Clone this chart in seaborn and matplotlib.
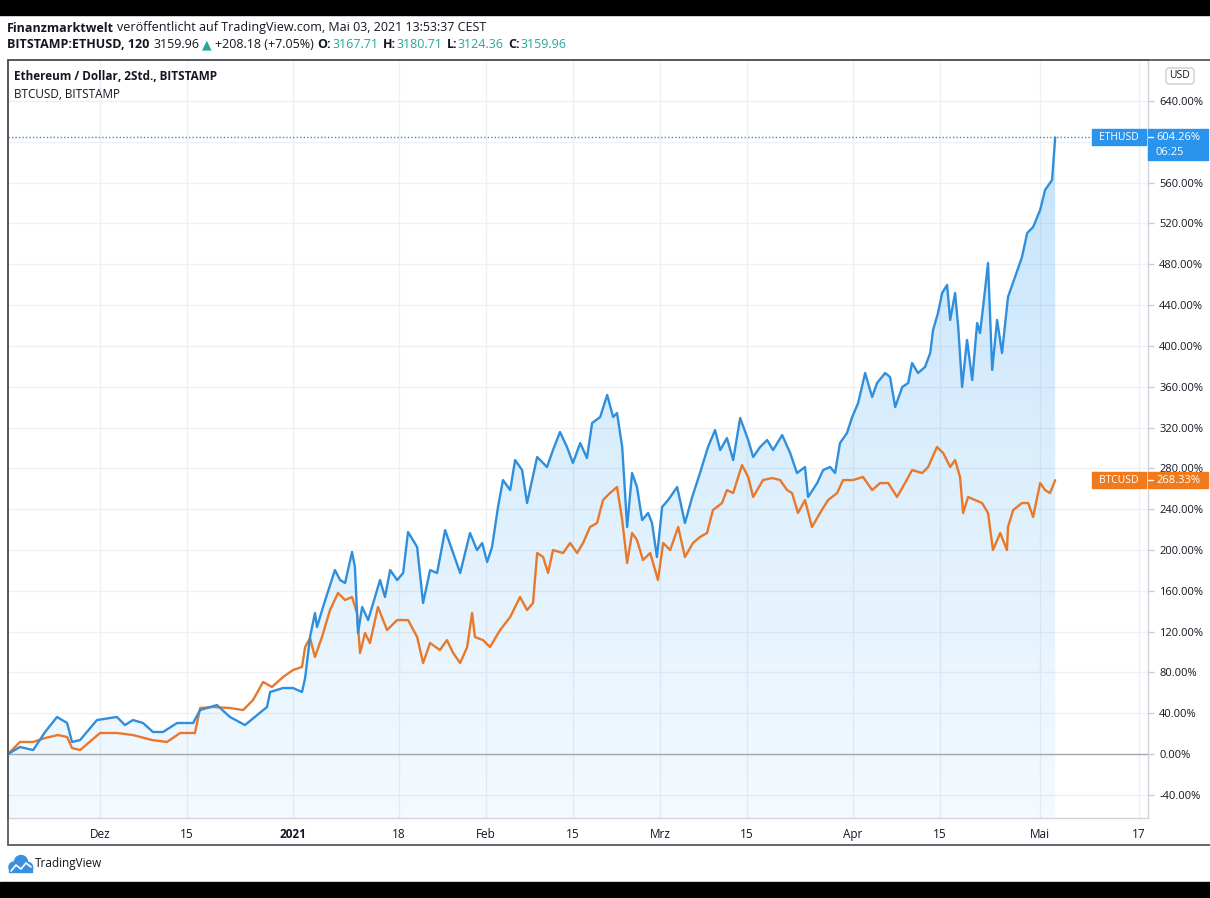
import matplotlib
matplotlib.use("Agg")
import matplotlib.pyplot as plt
import matplotlib.dates as mdates
from matplotlib.transforms import Affine2D
from matplotlib.patches import Rectangle, FancyBboxPatch, Polygon, Circle
from matplotlib.lines import Line2D
import numpy as np
import pandas as pd
import seaborn as sns

# =====================================================
# DATA (percent change since first bar)
# =====================================================

eth_dates = [
    "2020-11-16 05:00", "2020-11-18 03:00", "2020-11-20 06:00", "2020-11-22 04:00", "2020-11-24 02:00", "2020-11-25 17:00", "2020-11-26 12:00", "2020-11-27 19:00", "2020-11-30 12:00", "2020-12-03 17:00",
    "2020-12-05 00:00", "2020-12-06 07:00", "2020-12-07 22:00", "2020-12-09 12:00", "2020-12-11 03:00", "2020-12-13 09:00", "2020-12-15 23:00", "2020-12-17 02:00", "2020-12-19 19:00", "2020-12-21 21:00",
    "2020-12-24 07:00", "2020-12-26 06:00", "2020-12-27 20:00", "2020-12-28 08:00", "2020-12-30 10:00", "2021-01-01 00:00", "2021-01-02 11:00", "2021-01-02 23:00", "2021-01-03 18:00", "2021-01-04 13:00",
    "2021-01-04 21:00", "2021-01-05 20:00", "2021-01-07 18:00", "2021-01-08 14:00", "2021-01-09 09:00", "2021-01-10 12:00", "2021-01-10 23:00", "2021-01-11 11:00", "2021-01-12 03:00", "2021-01-13 02:00",
    "2021-01-15 00:00", "2021-01-15 19:00", "2021-01-16 15:00", "2021-01-17 18:00", "2021-01-18 17:00", "2021-01-19 12:00", "2021-01-20 23:00", "2021-01-21 22:00", "2021-01-23 01:00", "2021-01-24 04:00",
    "2021-01-25 11:00", "2021-01-26 18:00", "2021-01-27 21:00", "2021-01-29 11:00", "2021-01-30 14:00", "2021-01-31 10:00", "2021-02-01 05:00", "2021-02-02 00:00", "2021-02-02 23:00", "2021-02-03 18:00",
    "2021-02-04 22:00", "2021-02-05 17:00", "2021-02-06 20:00", "2021-02-07 15:00", "2021-02-09 06:00", "2021-02-10 20:00", "2021-02-11 19:00", "2021-02-12 22:00", "2021-02-14 01:00", "2021-02-15 00:00",
    "2021-02-16 04:00", "2021-02-17 06:00", "2021-02-18 02:00", "2021-02-19 09:00", "2021-02-20 12:00", "2021-02-21 11:00", "2021-02-22 02:00", "2021-02-22 22:00", "2021-02-23 09:00", "2021-02-23 17:00",
    "2021-02-24 12:00", "2021-02-25 07:00", "2021-02-26 03:00", "2021-02-27 02:00", "2021-02-27 17:00", "2021-02-28 12:00", "2021-03-01 08:00", "2021-03-02 07:00", "2021-03-03 18:00", "2021-03-05 00:00",
    "2021-03-06 04:00", "2021-03-07 10:00", "2021-03-08 17:00", "2021-03-09 20:00", "2021-03-10 16:00", "2021-03-11 18:00", "2021-03-12 18:00", "2021-03-13 21:00", "2021-03-15 04:00", "2021-03-15 23:00",
    "2021-03-17 02:00", "2021-03-18 05:00", "2021-03-19 04:00", "2021-03-20 15:00", "2021-03-21 22:00", "2021-03-23 00:00", "2021-03-24 07:00", "2021-03-24 19:00", "2021-03-26 06:00", "2021-03-27 05:00",
    "2021-03-28 08:00", "2021-03-29 03:00", "2021-03-29 22:00", "2021-03-31 01:00", "2021-03-31 21:00", "2021-04-01 20:00", "2021-04-02 23:00", "2021-04-04 02:00", "2021-04-04 21:00", "2021-04-06 04:00",
    "2021-04-06 23:00", "2021-04-07 19:00", "2021-04-08 22:00", "2021-04-09 21:00", "2021-04-10 12:00", "2021-04-11 11:00", "2021-04-12 14:00", "2021-04-13 10:00", "2021-04-13 21:00", "2021-04-14 16:00",
    "2021-04-15 08:00", "2021-04-16 03:00", "2021-04-16 15:00", "2021-04-17 10:00", "2021-04-17 22:00", "2021-04-18 13:00", "2021-04-19 08:00", "2021-04-20 04:00", "2021-04-20 23:00", "2021-04-21 10:00",
    "2021-04-21 22:00", "2021-04-22 17:00", "2021-04-23 09:00", "2021-04-24 04:00", "2021-04-24 23:00", "2021-04-25 22:00", "2021-04-27 01:00", "2021-04-28 04:00", "2021-04-29 00:00", "2021-04-29 23:00",
    "2021-05-01 02:00", "2021-05-01 21:00", "2021-05-03 00:00", "2021-05-03 12:00",
]

eth_pct = [
    0, 6.9, 3.9, 21.6, 36.3, 30.4, 11.8, 13.7, 33.3, 36.3,
    28.4, 33.3, 30.4, 21.6, 21.6, 30.4, 30.4, 43.1, 48.0, 36.3,
    28.4, 38.2, 46.1, 60.8, 64.7, 64.7, 60.8, 74.5, 114.7, 138.2,
    124.5, 144.1, 180.3, 170.5, 167.6, 198.0, 183.3, 118.6, 144.1, 131.3,
    170.5, 153.9, 180.3, 170.5, 177.4, 217.6, 202.9, 148.0, 180.3, 177.4,
    219.5, 197.0, 177.4, 216.6, 199.9, 206.8, 188.2, 202.9, 242.1, 268.5,
    258.7, 288.1, 278.3, 246.0, 291.1, 281.3, 297.9, 315.6, 300.9, 285.2,
    304.8, 290.1, 324.4, 330.3, 351.9, 330.3, 334.2, 300.9, 255.8, 222.5,
    275.4, 261.7, 229.3, 236.2, 226.4, 193.1, 242.1, 248.9, 261.7, 226.4,
    251.9, 275.4, 300.9, 317.5, 297.9, 309.7, 288.1, 329.3, 307.7, 291.1,
    300.9, 307.7, 297.9, 312.6, 295.0, 275.4, 281.3, 251.9, 265.6, 278.3,
    281.3, 275.4, 304.8, 314.6, 330.3, 344.0, 373.4, 349.9, 363.6, 373.4,
    369.5, 340.1, 359.7, 363.6, 383.2, 373.4, 379.3, 393.0, 415.6, 432.2,
    451.8, 459.7, 425.4, 451.8, 418.5, 359.7, 405.8, 366.6, 422.4, 412.6,
    438.1, 481.2, 376.4, 425.4, 393.0, 447.9, 467.5, 487.1, 510.6, 516.5,
    533.2, 552.8, 562.6, 604.26,
]

btc_dates = [
    "2020-11-16 05:00", "2020-11-18 03:00", "2020-11-20 06:00", "2020-11-22 04:00", "2020-11-24 06:00", "2020-11-25 17:00", "2020-11-26 12:00", "2020-11-27 19:00", "2020-12-01 00:00", "2020-12-03 17:00",
    "2020-12-06 07:00", "2020-12-09 09:00", "2020-12-11 18:00", "2020-12-13 21:00", "2020-12-16 06:00", "2020-12-17 02:00", "2020-12-19 04:00", "2020-12-21 21:00", "2020-12-24 00:00", "2020-12-25 14:00",
    "2020-12-27 05:00", "2020-12-28 15:00", "2020-12-30 10:00", "2021-01-01 00:00", "2021-01-02 11:00", "2021-01-02 23:00", "2021-01-03 18:00", "2021-01-04 13:00", "2021-01-05 16:00", "2021-01-06 23:00",
    "2021-01-08 06:00", "2021-01-09 09:00", "2021-01-10 12:00", "2021-01-11 07:00", "2021-01-11 19:00", "2021-01-12 14:00", "2021-01-13 09:00", "2021-01-14 16:00", "2021-01-16 03:00", "2021-01-17 18:00",
    "2021-01-19 12:00", "2021-01-20 23:00", "2021-01-21 22:00", "2021-01-23 01:00", "2021-01-24 15:00", "2021-01-25 18:00", "2021-01-26 18:00", "2021-01-27 21:00", "2021-01-29 00:00", "2021-01-29 19:00",
    "2021-01-30 06:00", "2021-01-31 13:00", "2021-02-01 16:00", "2021-02-03 07:00", "2021-02-04 22:00", "2021-02-06 12:00", "2021-02-07 15:00", "2021-02-08 14:00", "2021-02-09 06:00", "2021-02-10 05:00",
    "2021-02-11 00:00", "2021-02-11 19:00", "2021-02-13 10:00", "2021-02-14 13:00", "2021-02-15 16:00", "2021-02-16 15:00", "2021-02-17 18:00", "2021-02-18 21:00", "2021-02-19 20:00", "2021-02-20 23:00",
    "2021-02-22 02:00", "2021-02-22 22:00", "2021-02-23 17:00", "2021-02-24 12:00", "2021-02-25 07:00", "2021-02-26 06:00", "2021-02-27 10:00", "2021-02-28 16:00", "2021-03-01 12:00", "2021-03-02 15:00",
    "2021-03-03 22:00", "2021-03-05 00:00", "2021-03-06 07:00", "2021-03-07 10:00", "2021-03-08 13:00", "2021-03-09 12:00", "2021-03-10 23:00", "2021-03-11 18:00", "2021-03-12 18:00", "2021-03-14 04:00",
    "2021-03-15 04:00", "2021-03-15 23:00", "2021-03-17 13:00", "2021-03-19 00:00", "2021-03-20 07:00", "2021-03-21 10:00", "2021-03-22 05:00", "2021-03-23 04:00", "2021-03-24 07:00", "2021-03-25 10:00",
    "2021-03-26 17:00", "2021-03-28 00:00", "2021-03-29 11:00", "2021-03-30 10:00", "2021-04-01 00:00", "2021-04-02 15:00", "2021-04-04 02:00", "2021-04-05 09:00", "2021-04-06 16:00", "2021-04-08 02:00",
    "2021-04-09 09:00", "2021-04-10 12:00", "2021-04-12 03:00", "2021-04-13 02:00", "2021-04-14 12:00", "2021-04-15 12:00", "2021-04-16 15:00", "2021-04-17 10:00", "2021-04-18 05:00", "2021-04-18 17:00",
    "2021-04-19 12:00", "2021-04-20 15:00", "2021-04-21 18:00", "2021-04-22 17:00", "2021-04-23 12:00", "2021-04-24 16:00", "2021-04-25 18:00", "2021-04-25 22:00", "2021-04-26 18:00", "2021-04-28 04:00",
    "2021-04-29 04:00", "2021-04-29 23:00", "2021-05-01 02:00", "2021-05-01 21:00", "2021-05-02 16:00", "2021-05-03 12:00",
]

btc_pct = [
    0, 11.8, 11.8, 15.7, 18.6, 16.7, 5.9, 3.9, 20.6, 20.6,
    18.6, 13.7, 11.8, 20.6, 20.6, 45.1, 46.1, 45.1, 43.1, 52.9,
    70.6, 65.7, 75.5, 82.3, 85.3, 104.9, 113.7, 95.1, 114.7, 141.1,
    157.8, 150.9, 153.9, 138.2, 99.0, 118.6, 108.8, 144.1, 121.5, 131.3,
    131.3, 114.7, 89.2, 108.8, 101.9, 111.7, 99.0, 89.2, 104.9, 138.2,
    114.7, 111.7, 104.9, 121.5, 134.3, 153.9, 141.1, 148.0, 197.0, 193.1,
    177.4, 199.9, 197.0, 206.8, 197.0, 206.8, 222.5, 226.4, 248.9, 255.8,
    261.7, 229.3, 187.2, 216.6, 209.7, 190.1, 197.0, 170.5, 206.8, 199.9,
    222.5, 193.1, 206.8, 212.7, 216.6, 239.1, 246.0, 258.7, 255.8, 283.2,
    271.5, 251.9, 268.5, 270.5, 268.5, 258.7, 255.8, 236.2, 248.9, 222.5,
    236.2, 248.9, 255.8, 268.5, 268.5, 271.5, 258.7, 265.6, 265.6, 251.9,
    265.6, 278.3, 275.4, 281.3, 300.9, 295.0, 281.3, 288.1, 271.5, 236.2,
    251.9, 248.9, 246.0, 236.2, 199.9, 216.6, 199.9, 222.5, 239.1, 246.0,
    246.0, 232.3, 265.6, 258.7, 255.8, 268.33,
]

tick_dates = [
    "2020-12-01", "2020-12-15", "2021-01-01", "2021-01-18", "2021-02-01", "2021-02-15",
    "2021-03-01", "2021-03-15", "2021-04-01", "2021-04-15", "2021-05-01", "2021-05-17",
]
tick_labels = ["Dez", "15", "2021", "18", "Feb", "15", "Mrz", "15", "Apr", "15", "Mai", "17"]
y_ticks = list(range(-40, 641, 40))

x_start = "2020-11-16 05:00"
x_end = "2021-05-18 10:00"
y_min, y_max = -62.7, 680.2

# =====================================================
# STYLE
# =====================================================

W, H = 1210, 898
ETH_COLOR = "#2f8fdc"
BTC_COLOR = "#e8782a"
ETH_BADGE = "#2a93ec"
BTC_BADGE = "#f07a1c"
TEAL = "#26a69a"
INK = "#131722"

sns.set_theme(style="white")
FONT = ["Open Sans", "DejaVu Sans"]
plt.rcParams["font.family"] = FONT

fig = plt.figure(figsize=(W / 100, H / 100), dpi=100)
fig.patch.set_facecolor("white")

# image pixel coords (x right, y down) -> figure
img_tf = Affine2D().scale(1 / W, -1 / H).translate(0, 1) + fig.transFigure

ax = fig.add_axes([8 / W, 1 - 818 / H, (1148 - 8) / W, (818 - 60) / H])

# =====================================================
# LINES
# =====================================================

df = pd.concat([
    pd.DataFrame({"date": pd.to_datetime(btc_dates), "pct": btc_pct, "symbol": "BTCUSD"}),
    pd.DataFrame({"date": pd.to_datetime(eth_dates), "pct": eth_pct, "symbol": "ETHUSD"}),
])

sns.lineplot(
    data=df,
    x="date",
    y="pct",
    hue="symbol",
    hue_order=["BTCUSD", "ETHUSD"],
    palette={"ETHUSD": ETH_COLOR, "BTCUSD": BTC_COLOR},
    estimator=None,
    legend=False,
    linewidth=1.7,
    ax=ax,
    zorder=4,
)

# gradient area under ETH
xnum = mdates.date2num(pd.to_datetime(eth_dates))
verts = [(xnum[0], y_min)] + list(zip(xnum, eth_pct)) + [(xnum[-1], y_min)]
poly = Polygon(verts, closed=True, facecolor="none", edgecolor="none")
ax.add_patch(poly)
grad = np.linspace(0, 1, 256)
img = np.zeros((256, 1, 4))
img[..., 0] = 0.13
img[..., 1] = 0.59
img[..., 2] = 0.95
img[..., 3] = (0.05 + 0.21 * grad).reshape(-1, 1)
im = ax.imshow(img, extent=[xnum[0], xnum[-1], y_min, max(eth_pct)],
               origin="lower", aspect="auto", zorder=1, interpolation="bilinear")
im.set_clip_path(poly)

ax.set_xlim(pd.to_datetime(x_start), pd.to_datetime(x_end))
ax.set_ylim(y_min, y_max)
ax.set_aspect("auto")

ax.axhline(0, color="#a5a8b1", linewidth=1, zorder=2)
ax.axhline(eth_pct[-1], color=ETH_COLOR, linewidth=1, linestyle=(0, (1, 1.5)), zorder=3)

# =====================================================
# AXES
# =====================================================

ax.grid(True, color="#eef0f5", linewidth=1)
ax.set_axisbelow(True)

ax.set_xticks(mdates.date2num(pd.to_datetime(tick_dates)))
ax.set_xticklabels(tick_labels)
ax.tick_params(axis="x", length=0, pad=7, labelsize=8.5, labelcolor=INK)
for lab in ax.get_xticklabels():
    if lab.get_text() == "2021":
        lab.set_fontweight("bold")

# the 600% label sits under the ETH last-value badge, so it is left blank
ax.yaxis.tick_right()
ax.set_yticks(y_ticks)
ax.set_yticklabels(["" if v == 600 else f"{v:.2f}%" for v in y_ticks])
ax.tick_params(axis="y", length=4, width=1, color="#c9ccd4", pad=4, labelsize=8, labelcolor=INK)

ax.set_xlabel("")
ax.set_ylabel("")

for side in ["left", "top"]:
    ax.spines[side].set_color("#55585f")
    ax.spines[side].set_linewidth(1.2)
for side in ["right", "bottom"]:
    ax.spines[side].set_color("#d1d4dc")
    ax.spines[side].set_linewidth(1)

# =====================================================
# FRAME, BARS
# =====================================================

fig.add_artist(Rectangle((8, 60), 1215, 785, fill=False, edgecolor="#55585f",
                         linewidth=1.3, transform=img_tf))
fig.add_artist(Rectangle((0, 0), W, 15, color="black", transform=img_tf))
fig.add_artist(Rectangle((0, 882), W, 16, color="black", transform=img_tf))

# =====================================================
# TEXTS
# =====================================================

renderer = fig.canvas.get_renderer()


def text_run(x, y, pieces, size):
    for s, weight, color, gap in pieces:
        t = fig.text(x, y, s, transform=img_tf, fontsize=size, fontweight=weight,
                     color=color, ha="left", va="center", family=FONT)
        x += t.get_window_extent(renderer=renderer).width + gap


text_run(7, 28, [
    ("Finanzmarktwelt", "bold", INK, 3),
    ("veröffentlicht auf TradingView.com, Mai 03, 2021 13:53:37 CEST", "normal", INK, 0),
], 9)

text_run(7, 45, [
    ("BITSTAMP:ETHUSD, 120", "bold", INK, 4),
    ("3159.96", "normal", INK, 3),
    ("▲", "normal", TEAL, 3),
    ("+208.18 (+7.05%)", "normal", INK, 4),
    ("O:", "bold", INK, 1),
    ("3167.71", "normal", TEAL, 4),
    ("H:", "bold", INK, 1),
    ("3180.71", "normal", TEAL, 4),
    ("L:", "bold", INK, 1),
    ("3124.36", "normal", TEAL, 4),
    ("C:", "bold", INK, 1),
    ("3159.96", "normal", TEAL, 0),
], 9)

fig.text(14, 77, "Ethereum / Dollar, 2Std., BITSTAMP", transform=img_tf, fontsize=8.5,
         fontweight="bold", color=INK, va="center", ha="left")
fig.text(14, 94, "BTCUSD, BITSTAMP", transform=img_tf, fontsize=8.5,
         color=INK, va="center", ha="left")

# USD box
fig.add_artist(FancyBboxPatch((1166, 68), 28, 16, boxstyle="round,pad=0,rounding_size=3",
                              facecolor="white", edgecolor="#c9ccd4", linewidth=1, transform=img_tf))
fig.text(1180, 76, "USD", transform=img_tf, fontsize=7.5, color=INK, ha="center", va="center")

# =====================================================
# LAST VALUE BADGES
# =====================================================


def badge_y(value):
    disp = ax.transData.transform((xnum[-1], value))
    return H - disp[1]


ey = badge_y(eth_pct[-1])
fig.add_artist(Rectangle((1092, ey - 8), 54, 16, color=ETH_BADGE, transform=img_tf))
fig.text(1119, ey, "ETHUSD", transform=img_tf, fontsize=7.5, color="white", ha="center", va="center")
fig.add_artist(Rectangle((1148, ey - 8), 60, 31, color=ETH_BADGE, transform=img_tf))
fig.add_artist(Line2D([1148, 1153], [ey, ey], color="white", linewidth=1, transform=img_tf))
fig.text(1156, ey, f"{eth_pct[-1]:.2f}%", transform=img_tf, fontsize=8, color="white", ha="left", va="center")
fig.text(1156, ey + 15, "06:25", transform=img_tf, fontsize=8, color="white", ha="left", va="center")

by = badge_y(btc_pct[-1])
fig.add_artist(Rectangle((1092, by - 8), 54, 16, color=BTC_BADGE, transform=img_tf))
fig.text(1119, by, "BTCUSD", transform=img_tf, fontsize=7.5, color="white", ha="center", va="center")
fig.add_artist(Rectangle((1148, by - 8), 60, 16, color=BTC_BADGE, transform=img_tf))
fig.add_artist(Line2D([1148, 1153], [by, by], color="white", linewidth=1, transform=img_tf))
fig.text(1156, by, f"{btc_pct[-1]:.2f}%", transform=img_tf, fontsize=8, color="white", ha="left", va="center")

# =====================================================
# TRADINGVIEW LOGO
# =====================================================

LOGO = "#3a8fe0"
for cx, cy, r in [(14, 867, 5), (21, 862, 6.5), (28, 867, 4.5)]:
    fig.add_artist(Circle((cx, cy), r, color=LOGO, transform=img_tf))
fig.add_artist(Rectangle((9, 866), 23, 6, color=LOGO, transform=img_tf))
fig.add_artist(Line2D([11, 16, 21, 26, 31], [871, 865, 869, 863, 867], color="white",
                      linewidth=1.2, transform=img_tf))
fig.text(35, 864, "TradingView", transform=img_tf, fontsize=8.5, color=INK, ha="left", va="center")

fig.savefig("out.png", dpi=100, facecolor="white")
